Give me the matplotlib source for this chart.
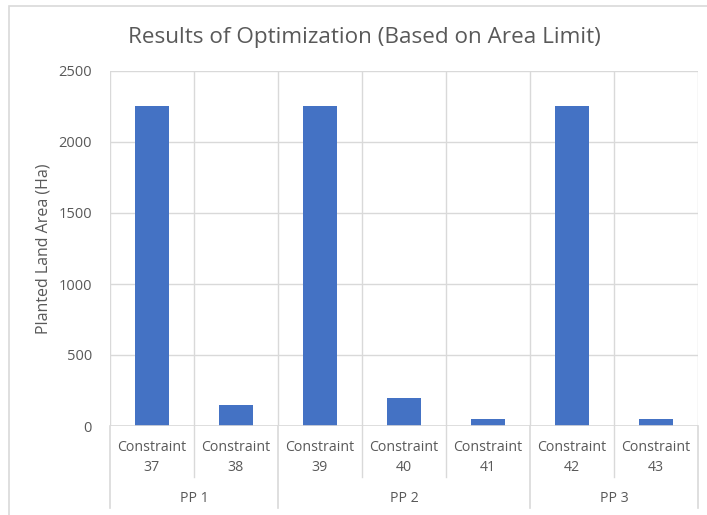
import matplotlib.pyplot as plt
from matplotlib.patches import Rectangle
import matplotlib.transforms as mtransforms

# bar data
constraints = ["Constraint\n37", "Constraint\n38", "Constraint\n39", "Constraint\n40",
               "Constraint\n41", "Constraint\n42", "Constraint\n43"]
areas = [2250, 145, 2250, 200, 50, 2250, 50]
groups = ["PP 1", "PP 2", "PP 3"]
group_sizes = [2, 3, 2]
y_ticks = [0, 500, 1000, 1500, 2000, 2500]

BAR = "#4472C4"
GRID = "#D9D9D9"
TEXT = "#595959"
FONT = "Open Sans"

W, H = 707, 515
fig = plt.figure(figsize=(W / 100, H / 100), dpi=100)
plt.rcParams["font.family"] = [FONT, "DejaVu Sans"]

# chart area border (cut off at right/bottom)
fig.patches.append(Rectangle((9 / W, -0.1), 1.2, (H - 6) / H + 0.1,
                             transform=fig.transFigure, fill=False,
                             edgecolor=GRID, linewidth=1.2))

left, right, top, bottom = 110, 698, 71, 426
ax = fig.add_axes([left / W, (H - bottom) / H, (right - left) / W, (bottom - top) / H])
ax_h = bottom - top

x = list(range(len(areas)))
ax.bar(x, areas, width=0.4, color=BAR, zorder=3)

ax.set_xlim(-0.5, len(areas) - 0.5)
ax.set_ylim(0, 2500)
ax.set_yticks(y_ticks)
ax.set_yticklabels([str(v) for v in y_ticks], fontsize=10.5, color=TEXT)
ax.tick_params(axis="y", length=0, pad=13)
ax.set_xticks(x)
ax.set_xticklabels(constraints, fontsize=10.2, color=TEXT, linespacing=1.5)
ax.tick_params(axis="x", length=0, pad=10)

# gridlines: horizontal at y ticks, vertical at category edges
ax.yaxis.grid(True, color=GRID, linewidth=1, zorder=0)
for edge in range(len(areas) + 1):
    ax.axvline(edge - 0.5, color=GRID, linewidth=1, zorder=0)
for s in ax.spines.values():
    s.set_visible(False)
ax.axhline(0, color=GRID, linewidth=1.2, zorder=4)

ax.set_ylabel("Planted Land Area (Ha)", fontsize=11.5, color=TEXT)
ax.yaxis.set_label_coords(-58 / (right - left), 0.5)

# multi-level category axis: separators and group labels
trans = mtransforms.blended_transform_factory(ax.transData, ax.transAxes)
inner_y = -51 / ax_h
outer_y = -82 / ax_h
start = 0
for name, size in zip(groups, group_sizes):
    lo, hi = start - 0.5, start + size - 0.5
    for edge in range(start + 1, start + size):
        ax.plot([edge - 0.5, edge - 0.5], [0, inner_y], transform=trans,
                color=GRID, linewidth=1, clip_on=False)
    ax.text((lo + hi) / 2, -72 / ax_h, name, transform=trans, ha="center",
            va="center", fontsize=10.2, color=TEXT)
    start += size
start = 0
for size in [0] + group_sizes:
    start += size
    ax.plot([start - 0.5, start - 0.5], [0, outer_y], transform=trans,
            color=GRID, linewidth=1.2, clip_on=False)

fig.text((128 + 600) / 2 / W, (H - 37) / H, "Results of Optimization (Based on Area Limit)",
         ha="center", va="center", fontsize=16.2, color=TEXT)

fig.savefig("out.png", dpi=100)
